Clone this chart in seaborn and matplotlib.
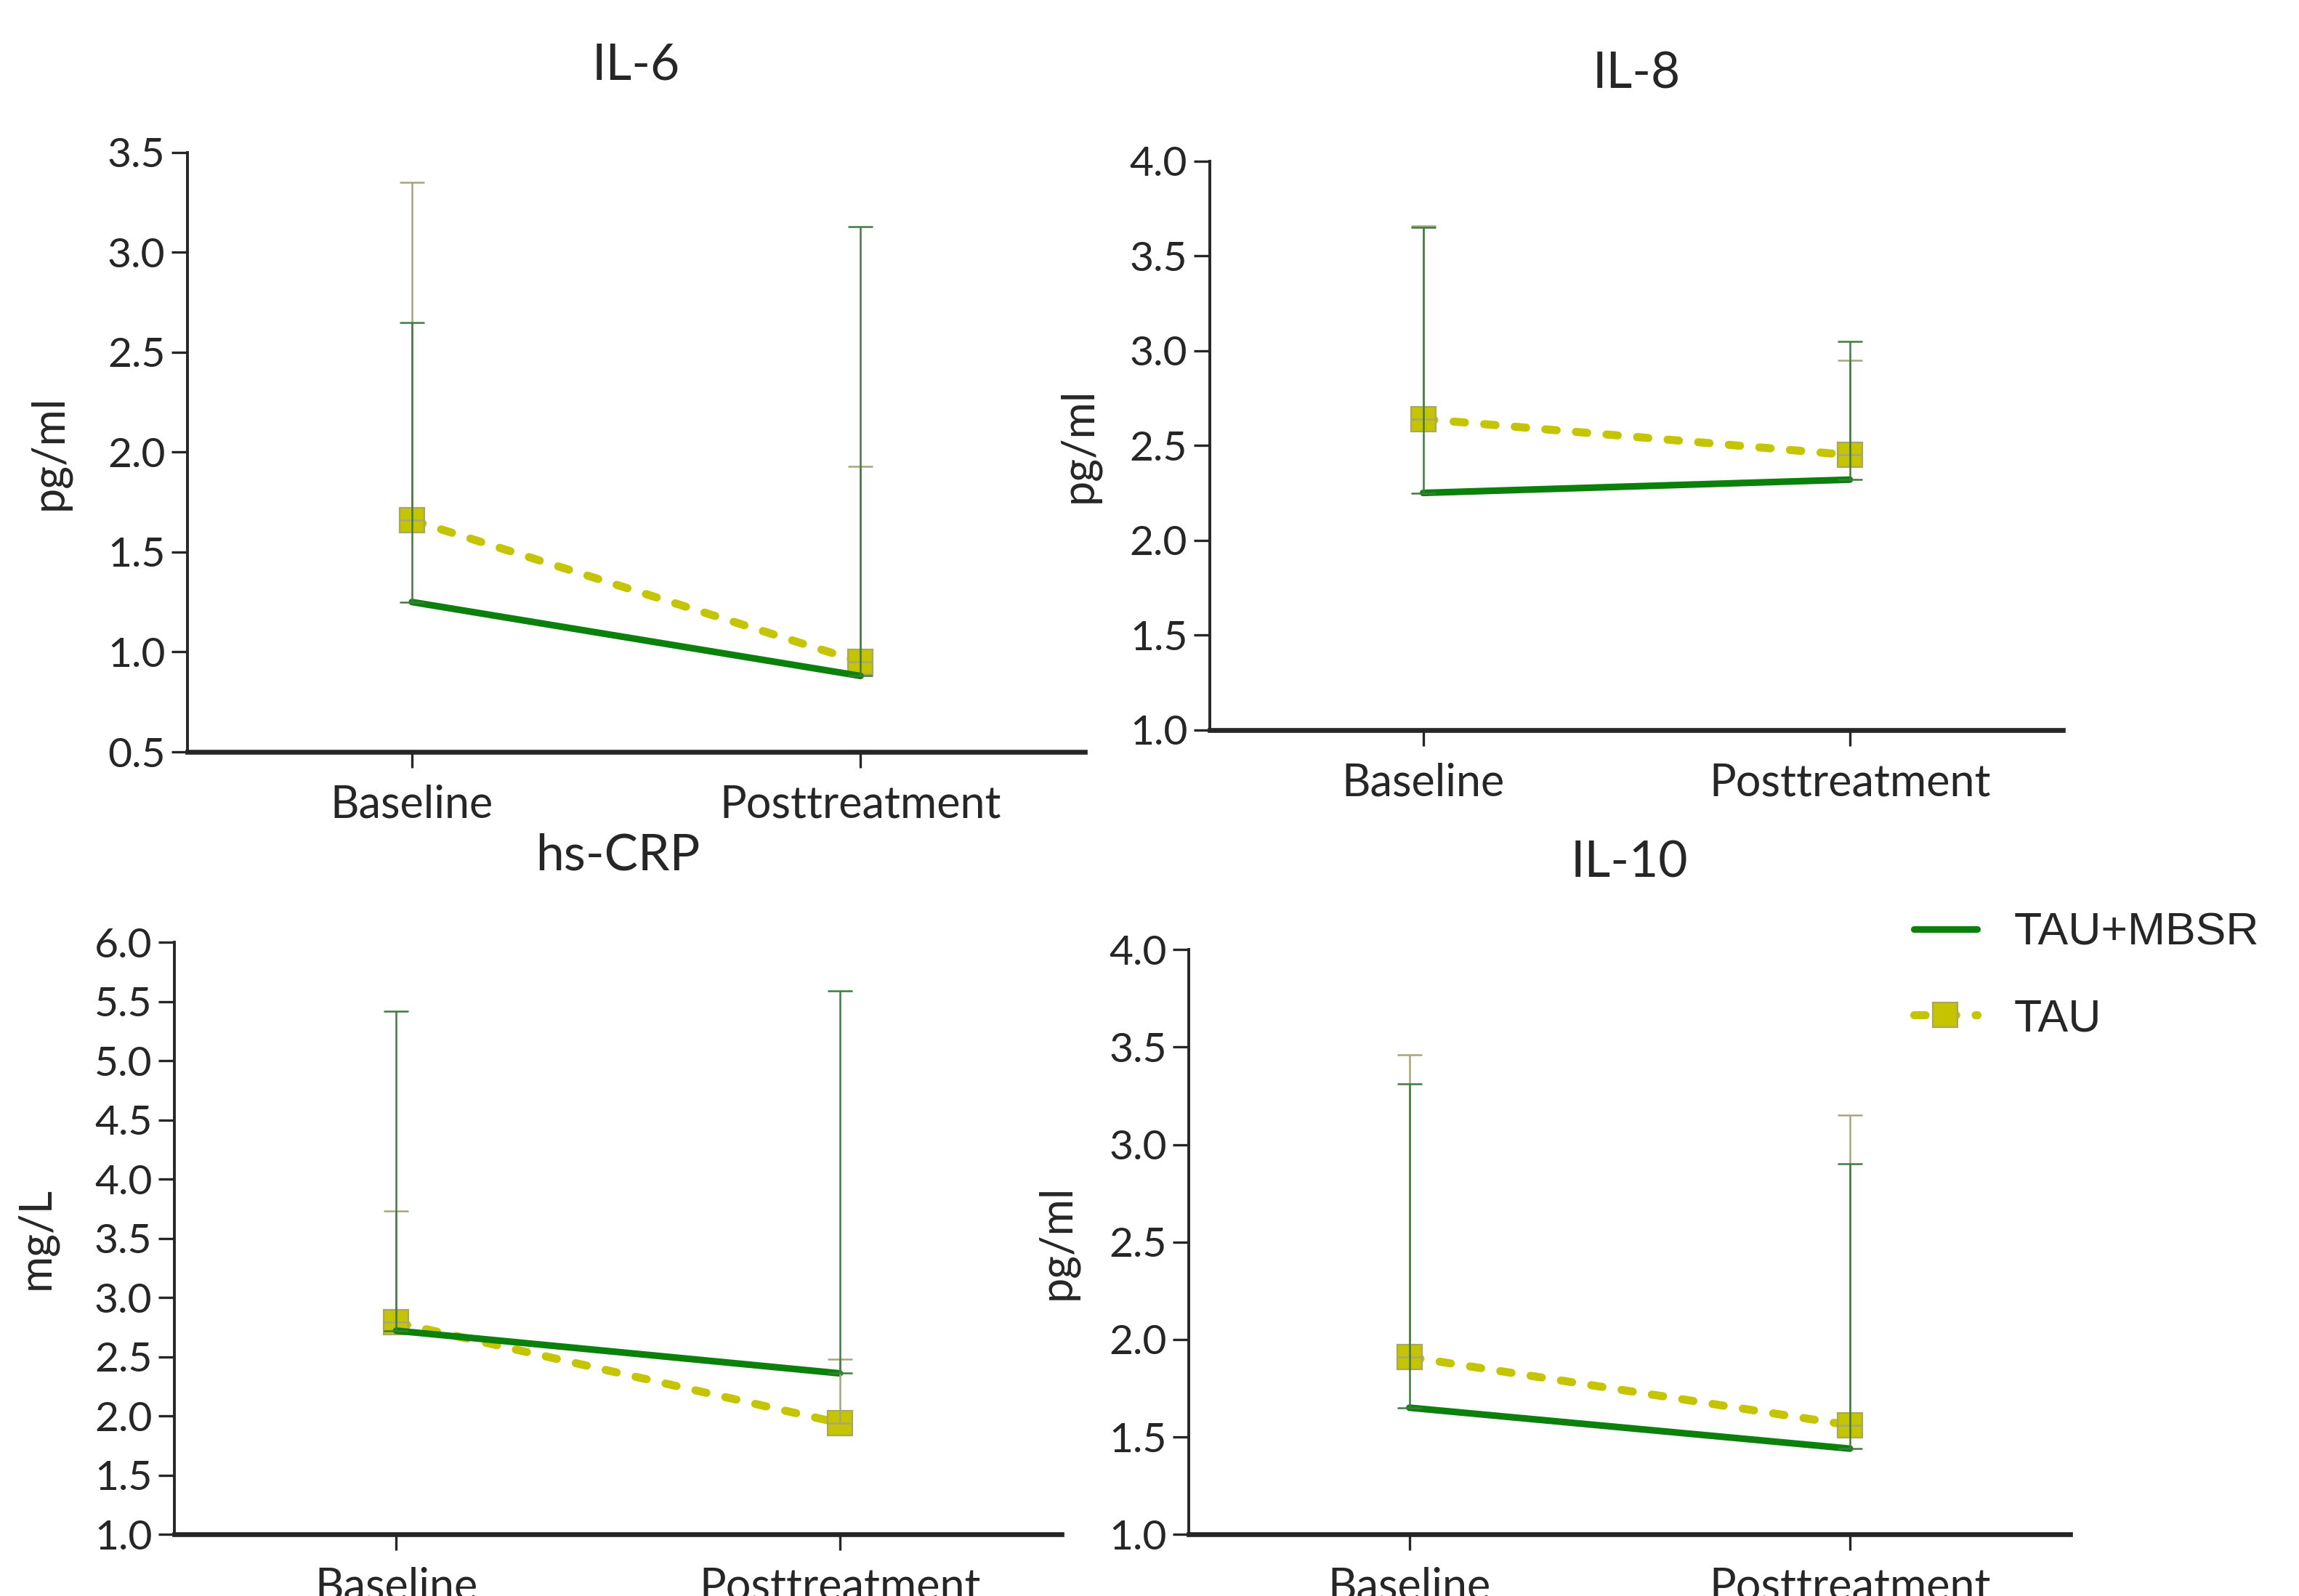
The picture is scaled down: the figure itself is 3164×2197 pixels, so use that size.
import numpy as np
import pandas as pd
import matplotlib
matplotlib.use("Agg")
import matplotlib.pyplot as plt
import seaborn as sns

# time points
timepoints = ["Baseline", "Posttreatment"]
groups = ["TAU+MBSR", "TAU"]

# panel names and units
panels = ["IL-6", "IL-8", "hs-CRP", "IL-10"]
units = ["pg/ml", "pg/ml", "mg/L", "pg/ml"]

# group means
mbsr_mean = {"IL-6": [1.25, 0.88], "IL-8": [2.25, 2.32], "hs-CRP": [2.72, 2.36], "IL-10": [1.65, 1.44]}
tau_mean = {"IL-6": [1.66, 0.95], "IL-8": [2.64, 2.45], "hs-CRP": [2.79, 1.94], "IL-10": [1.91, 1.56]}

# upper error bars (SD)
mbsr_sd = {"IL-6": [1.40, 2.25], "IL-8": [1.40, 0.73], "hs-CRP": [2.70, 3.23], "IL-10": [1.66, 1.46]}
tau_sd = {"IL-6": [1.69, 0.98], "IL-8": [1.02, 0.50], "hs-CRP": [0.94, 0.54], "IL-10": [1.55, 1.59]}

# y axis ranges
y_range = {"IL-6": (0.5, 3.5), "IL-8": (1.0, 4.0), "hs-CRP": (1.0, 6.0), "IL-10": (1.0, 4.0)}

sns.set_style("ticks")
plt.rcParams["font.family"] = ["Lato", "DejaVu Sans"]

green = "#0b800b"
yellow = "#c4c400"
green_err = "#3f7a3f"
yellow_err = "#a6a67c"

fig = plt.figure(figsize=(15.82, 10.985), dpi=200)

rects = {
    "IL-6": [0.0816, 0.5289, 0.3903, 0.3756],
    "IL-8": [0.5262, 0.5427, 0.3712, 0.3563],
    "hs-CRP": [0.0759, 0.0386, 0.3858, 0.3710],
    "IL-10": [0.5172, 0.0386, 0.3833, 0.3664],
}
ylab_x = {"IL-6": -0.131, "IL-8": -0.129, "hs-CRP": -0.132, "IL-10": -0.126}

handles = None
xpos = np.arange(len(timepoints))

for name, unit in zip(panels, units):
    ax = fig.add_axes(rects[name])
    df = pd.DataFrame({
        "time": np.concatenate([xpos, xpos]),
        "value": mbsr_mean[name] + tau_mean[name],
        "group": [groups[0]] * 2 + [groups[1]] * 2,
    })
    tau_df = df[df["group"] == "TAU"]
    mbsr_df = df[df["group"] == "TAU+MBSR"]

    sns.lineplot(data=tau_df, x="time", y="value", ax=ax, color=yellow, errorbar=None,
                 linewidth=4, linestyle=(0, (1.4, 2.4)), dash_capstyle="round",
                 marker="s", markersize=12, markerfacecolor=yellow,
                 markeredgecolor="#a8a860", markeredgewidth=0.8, label="TAU", zorder=2)
    sns.lineplot(data=mbsr_df, x="time", y="value", ax=ax, color=green, errorbar=None,
                 linewidth=3.3, label="TAU+MBSR", zorder=3)
    if handles is None:
        handles = [ax.lines[1], ax.lines[0]]
    if ax.get_legend() is not None:
        ax.get_legend().remove()

    # upper error bars only
    ax.errorbar(xpos, tau_mean[name], yerr=[np.zeros(2), tau_sd[name]], fmt="none",
                ecolor=yellow_err, elinewidth=0.9, capsize=6, capthick=0.9, zorder=4)
    ax.errorbar(xpos, mbsr_mean[name], yerr=[np.zeros(2), mbsr_sd[name]], fmt="none",
                ecolor=green_err, elinewidth=0.9, capsize=6, capthick=0.9, zorder=4)

    lo, hi = y_range[name]
    ax.set_ylim(lo, hi)
    ax.set_yticks(np.arange(lo, hi + 0.01, 0.5))
    ax.set_yticklabels([f"{v:.1f}" for v in np.arange(lo, hi + 0.01, 0.5)])
    ax.set_xlim(-0.5, 1.5)
    ax.set_xticks(xpos)
    ax.set_xticklabels(timepoints)
    ax.set_xlabel("")
    ax.set_ylabel(unit, fontsize=22)
    ax.yaxis.set_label_coords(ylab_x[name], 0.5)
    ax.set_title(name, fontsize=25, pad=36)

    sns.despine(ax=ax)
    ax.spines["left"].set_linewidth(1.4)
    ax.spines["bottom"].set_linewidth(2.4)
    ax.tick_params(axis="y", length=8, width=1.2, pad=3, labelsize=20.5, direction="out")
    ax.tick_params(axis="x", length=8, width=1.2, pad=8, labelsize=22, direction="out")

fig.legend(handles=handles, labels=groups, loc="upper left",
           bbox_to_anchor=(0.8225, 0.443), frameon=False,
           prop={"family": "Liberation Sans", "size": 22.5},
           handlelength=1.4, handletextpad=0.8, labelspacing=0.95, borderpad=0)

fig.savefig("out.png", dpi=200)
